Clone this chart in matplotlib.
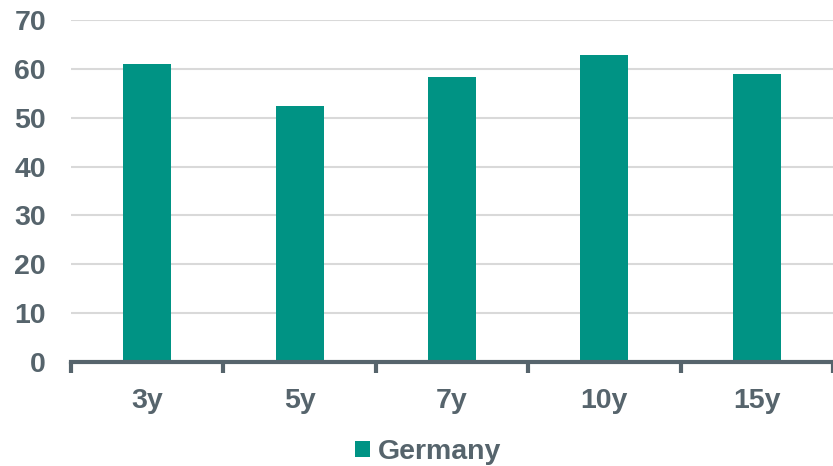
import matplotlib.pyplot as plt

plt.rcParams['font.family'] = ['Liberation Sans', 'DejaVu Sans']

# Tenors and values
tenors = ['3y', '5y', '7y', '10y', '15y']
germany = [61.0, 52.3, 58.4, 62.8, 58.9]

bar_color = '#009384'
text_color = '#56646c'
axis_color = '#56646c'
fs = 20.5

fig = plt.figure(figsize=(8.33, 4.66), dpi=100)
ax = fig.add_axes([0.0852, 0.2232, 0.9148, 0.7339])

x = list(range(len(tenors)))
ax.bar(x, germany, width=0.315, color=bar_color, label='Germany', zorder=3)

ax.set_ylim(0, 70)
ax.set_xlim(-0.5, len(tenors) - 0.5)
ax.set_yticks(range(0, 71, 10))
ax.yaxis.grid(True, color='#d9d9d9', linewidth=1.5, zorder=0)
ax.tick_params(axis='y', length=0, pad=18, labelsize=fs, labelcolor=text_color)
for lbl in ax.get_yticklabels():
    lbl.set_fontweight('bold')

# boundary ticks between categories, labels centred on bars
ax.set_xticks([i - 0.5 for i in range(len(tenors) + 1)])
ax.set_xticklabels([])
ax.set_xticks(x, minor=True)
ax.set_xticklabels(tenors, minor=True, fontsize=fs, fontweight='bold', color=text_color)
ax.tick_params(axis='x', which='major', length=8, width=3, color=axis_color, direction='out')
ax.tick_params(axis='x', which='minor', length=0, pad=19)

for side in ['top', 'right', 'left']:
    ax.spines[side].set_visible(False)
ax.spines['bottom'].set_color(axis_color)
ax.spines['bottom'].set_linewidth(3)
ax.spines['bottom'].set_zorder(4)

leg = fig.legend(loc='center', bbox_to_anchor=(0.514, 0.03), frameon=False,
                 handlelength=0.52, handleheight=0.52, handletextpad=0.3,
                 borderpad=0, prop={'size': fs, 'weight': 'bold'})
for t in leg.get_texts():
    t.set_color(text_color)

fig.savefig('out.png', dpi=100)
